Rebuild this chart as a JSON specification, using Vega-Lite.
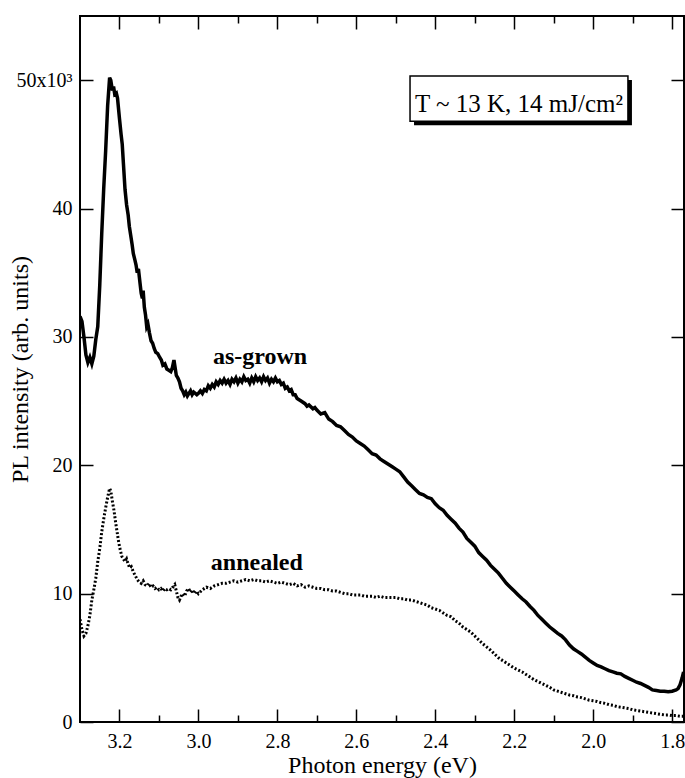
{
  "$schema": "https://vega.github.io/schema/vega-lite/v6.json",
  "width": 604,
  "height": 706,
  "autosize": {"type": "none"},
  "padding": {"left": 80, "top": 16, "right": 1, "bottom": 56},
  "background": "white",
  "config": {
    "view": {"stroke": "black", "strokeWidth": 2},
    "font": "Liberation Serif",
    "axis": {"grid": false, "domain": false, "tickColor": "black", "tickWidth": 1.5, "labelColor": "black", "titleColor": "black", "labelFont": "Liberation Serif", "titleFont": "Liberation Serif", "labelFontSize": 20, "titleFontSize": 24, "titleFontWeight": "normal"}
  },
  "datasets": {
    "asgrown": [
      {"e":3.300,"pl":31600},{"e":3.295,"pl":31200},{"e":3.290,"pl":30000},{"e":3.285,"pl":28600},{"e":3.280,"pl":28000},{"e":3.275,"pl":28400},{"e":3.270,"pl":27900},{"e":3.265,"pl":28500},{"e":3.260,"pl":29800},{"e":3.255,"pl":30800},{"e":3.250,"pl":34000},{"e":3.245,"pl":38000},{"e":3.240,"pl":41500},{"e":3.235,"pl":44500},{"e":3.230,"pl":48000},{"e":3.225,"pl":50200},{"e":3.222,"pl":50000},{"e":3.218,"pl":49200},{"e":3.215,"pl":49500},{"e":3.212,"pl":48900},{"e":3.208,"pl":49000},{"e":3.205,"pl":48600},{"e":3.200,"pl":47000},{"e":3.196,"pl":45800},{"e":3.193,"pl":45000},{"e":3.190,"pl":43500},{"e":3.186,"pl":41500},{"e":3.182,"pl":40300},{"e":3.178,"pl":39500},{"e":3.175,"pl":38600},{"e":3.171,"pl":37800},{"e":3.168,"pl":37200},{"e":3.165,"pl":36500},{"e":3.161,"pl":36000},{"e":3.158,"pl":35600},{"e":3.155,"pl":35000},{"e":3.152,"pl":35300},{"e":3.148,"pl":34200},{"e":3.145,"pl":33400},{"e":3.142,"pl":33000},{"e":3.140,"pl":33600},{"e":3.137,"pl":32300},{"e":3.134,"pl":31700},{"e":3.131,"pl":30800},{"e":3.128,"pl":31000},{"e":3.124,"pl":30300},{"e":3.120,"pl":29700},{"e":3.116,"pl":29500},{"e":3.112,"pl":29100},{"e":3.108,"pl":28800},{"e":3.103,"pl":28700},{"e":3.098,"pl":28400},{"e":3.094,"pl":28200},{"e":3.090,"pl":27800},{"e":3.085,"pl":27900},{"e":3.080,"pl":27500},{"e":3.075,"pl":27400},{"e":3.070,"pl":27300},{"e":3.066,"pl":27600},{"e":3.062,"pl":28200},{"e":3.059,"pl":27600},{"e":3.056,"pl":27000},{"e":3.052,"pl":26800},{"e":3.048,"pl":26500},{"e":3.044,"pl":26000},{"e":3.040,"pl":25800},{"e":3.036,"pl":25500},{"e":3.032,"pl":25700},{"e":3.028,"pl":25400},{"e":3.024,"pl":25600},{"e":3.020,"pl":25800},{"e":3.016,"pl":25500},{"e":3.012,"pl":25700},{"e":3.008,"pl":25600},{"e":3.004,"pl":25500},{"e":3.000,"pl":25600},{"e":2.995,"pl":25800},{"e":2.990,"pl":25600},{"e":2.985,"pl":25900},{"e":2.980,"pl":25800},{"e":2.975,"pl":26200},{"e":2.970,"pl":26000},{"e":2.965,"pl":26300},{"e":2.960,"pl":26100},{"e":2.955,"pl":26500},{"e":2.950,"pl":26300},{"e":2.945,"pl":26600},{"e":2.940,"pl":26400},{"e":2.935,"pl":26700},{"e":2.930,"pl":26400},{"e":2.925,"pl":26600},{"e":2.920,"pl":26300},{"e":2.915,"pl":26700},{"e":2.910,"pl":26500},{"e":2.905,"pl":26800},{"e":2.900,"pl":26400},{"e":2.895,"pl":26700},{"e":2.890,"pl":26500},{"e":2.885,"pl":26900},{"e":2.880,"pl":26600},{"e":2.875,"pl":26700},{"e":2.870,"pl":26400},{"e":2.865,"pl":26800},{"e":2.860,"pl":26500},{"e":2.855,"pl":26900},{"e":2.850,"pl":26600},{"e":2.845,"pl":26800},{"e":2.840,"pl":26500},{"e":2.835,"pl":26900},{"e":2.830,"pl":26600},{"e":2.825,"pl":26800},{"e":2.820,"pl":26400},{"e":2.815,"pl":26700},{"e":2.810,"pl":26500},{"e":2.805,"pl":26800},{"e":2.800,"pl":26500},{"e":2.795,"pl":26600},{"e":2.790,"pl":26300},{"e":2.785,"pl":26400},{"e":2.780,"pl":26000},{"e":2.775,"pl":26100},{"e":2.770,"pl":25800},{"e":2.765,"pl":25900},{"e":2.760,"pl":25500},{"e":2.755,"pl":25500},{"e":2.750,"pl":25200},{"e":2.740,"pl":25000},{"e":2.730,"pl":24800},{"e":2.725,"pl":24600},{"e":2.720,"pl":24700},{"e":2.710,"pl":24400},{"e":2.705,"pl":24500},{"e":2.700,"pl":24300},{"e":2.690,"pl":24000},{"e":2.680,"pl":24100},{"e":2.670,"pl":23600},{"e":2.660,"pl":23400},{"e":2.650,"pl":23100},{"e":2.640,"pl":23000},{"e":2.630,"pl":22700},{"e":2.620,"pl":22400},{"e":2.610,"pl":22200},{"e":2.600,"pl":21900},{"e":2.590,"pl":21700},{"e":2.580,"pl":21500},{"e":2.570,"pl":21200},{"e":2.560,"pl":20900},{"e":2.550,"pl":20800},{"e":2.540,"pl":20500},{"e":2.530,"pl":20300},{"e":2.520,"pl":20100},{"e":2.510,"pl":19900},{"e":2.500,"pl":19700},{"e":2.490,"pl":19500},{"e":2.480,"pl":19100},{"e":2.470,"pl":18700},{"e":2.460,"pl":18400},{"e":2.450,"pl":18100},{"e":2.440,"pl":17800},{"e":2.430,"pl":17700},{"e":2.420,"pl":17500},{"e":2.410,"pl":17400},{"e":2.400,"pl":17000},{"e":2.390,"pl":16700},{"e":2.380,"pl":16500},{"e":2.370,"pl":16100},{"e":2.360,"pl":15800},{"e":2.350,"pl":15500},{"e":2.340,"pl":15100},{"e":2.330,"pl":14800},{"e":2.320,"pl":14300},{"e":2.310,"pl":14000},{"e":2.300,"pl":13700},{"e":2.290,"pl":13200},{"e":2.280,"pl":12900},{"e":2.270,"pl":12600},{"e":2.260,"pl":12200},{"e":2.250,"pl":11900},{"e":2.240,"pl":11600},{"e":2.230,"pl":11200},{"e":2.220,"pl":10800},{"e":2.210,"pl":10500},{"e":2.200,"pl":10200},{"e":2.190,"pl":9900},{"e":2.180,"pl":9600},{"e":2.170,"pl":9350},{"e":2.160,"pl":9000},{"e":2.150,"pl":8700},{"e":2.140,"pl":8300},{"e":2.130,"pl":8000},{"e":2.120,"pl":7700},{"e":2.110,"pl":7400},{"e":2.100,"pl":7150},{"e":2.090,"pl":6900},{"e":2.080,"pl":6700},{"e":2.070,"pl":6400},{"e":2.060,"pl":6000},{"e":2.050,"pl":5700},{"e":2.040,"pl":5500},{"e":2.030,"pl":5300},{"e":2.020,"pl":5050},{"e":2.010,"pl":4800},{"e":2.000,"pl":4600},{"e":1.990,"pl":4400},{"e":1.980,"pl":4300},{"e":1.970,"pl":4150},{"e":1.960,"pl":4000},{"e":1.950,"pl":3900},{"e":1.940,"pl":3800},{"e":1.930,"pl":3750},{"e":1.920,"pl":3550},{"e":1.910,"pl":3400},{"e":1.900,"pl":3250},{"e":1.890,"pl":3100},{"e":1.880,"pl":3000},{"e":1.870,"pl":2850},{"e":1.860,"pl":2700},{"e":1.850,"pl":2500},{"e":1.840,"pl":2450},{"e":1.830,"pl":2400},{"e":1.820,"pl":2400},{"e":1.810,"pl":2350},{"e":1.800,"pl":2400},{"e":1.790,"pl":2500},{"e":1.785,"pl":2600},{"e":1.780,"pl":2900},{"e":1.775,"pl":3400},{"e":1.771,"pl":3900}
    ],
    "annealed": [
      {"e":3.300,"pl":8000},{"e":3.295,"pl":7200},{"e":3.290,"pl":6700},{"e":3.285,"pl":6900},{"e":3.280,"pl":7500},{"e":3.275,"pl":8300},{"e":3.270,"pl":9500},{"e":3.265,"pl":10300},{"e":3.260,"pl":11200},{"e":3.255,"pl":12500},{"e":3.250,"pl":13500},{"e":3.245,"pl":14800},{"e":3.240,"pl":15800},{"e":3.235,"pl":16700},{"e":3.230,"pl":17500},{"e":3.225,"pl":18200},{"e":3.222,"pl":18000},{"e":3.218,"pl":17200},{"e":3.214,"pl":16500},{"e":3.210,"pl":15600},{"e":3.206,"pl":14800},{"e":3.202,"pl":14000},{"e":3.198,"pl":13400},{"e":3.194,"pl":12900},{"e":3.190,"pl":12700},{"e":3.186,"pl":12500},{"e":3.182,"pl":12700},{"e":3.178,"pl":12300},{"e":3.174,"pl":12000},{"e":3.170,"pl":12100},{"e":3.165,"pl":11700},{"e":3.160,"pl":11400},{"e":3.155,"pl":11100},{"e":3.150,"pl":10900},{"e":3.145,"pl":10800},{"e":3.140,"pl":11000},{"e":3.135,"pl":10700},{"e":3.130,"pl":10600},{"e":3.125,"pl":10800},{"e":3.120,"pl":10500},{"e":3.115,"pl":10600},{"e":3.110,"pl":10400},{"e":3.105,"pl":10500},{"e":3.100,"pl":10300},{"e":3.095,"pl":10400},{"e":3.090,"pl":10200},{"e":3.085,"pl":10400},{"e":3.080,"pl":10300},{"e":3.075,"pl":10400},{"e":3.070,"pl":10300},{"e":3.065,"pl":10500},{"e":3.060,"pl":10700},{"e":3.056,"pl":10200},{"e":3.052,"pl":9700},{"e":3.048,"pl":9500},{"e":3.044,"pl":9800},{"e":3.040,"pl":10000},{"e":3.035,"pl":9800},{"e":3.030,"pl":10200},{"e":3.025,"pl":10400},{"e":3.020,"pl":10100},{"e":3.015,"pl":10300},{"e":3.010,"pl":10000},{"e":3.005,"pl":10200},{"e":3.000,"pl":10000},{"e":2.990,"pl":10300},{"e":2.980,"pl":10500},{"e":2.970,"pl":10400},{"e":2.960,"pl":10600},{"e":2.950,"pl":10700},{"e":2.940,"pl":10800},{"e":2.930,"pl":10800},{"e":2.920,"pl":10900},{"e":2.910,"pl":11000},{"e":2.900,"pl":10900},{"e":2.890,"pl":11000},{"e":2.880,"pl":11100},{"e":2.870,"pl":11000},{"e":2.860,"pl":11100},{"e":2.850,"pl":11000},{"e":2.840,"pl":11000},{"e":2.830,"pl":10900},{"e":2.820,"pl":11000},{"e":2.810,"pl":10900},{"e":2.800,"pl":10800},{"e":2.790,"pl":10900},{"e":2.780,"pl":10800},{"e":2.770,"pl":10700},{"e":2.760,"pl":10800},{"e":2.750,"pl":10600},{"e":2.740,"pl":10700},{"e":2.730,"pl":10500},{"e":2.720,"pl":10600},{"e":2.710,"pl":10500},{"e":2.700,"pl":10400},{"e":2.690,"pl":10400},{"e":2.680,"pl":10300},{"e":2.670,"pl":10300},{"e":2.660,"pl":10200},{"e":2.650,"pl":10200},{"e":2.640,"pl":10100},{"e":2.630,"pl":10000},{"e":2.620,"pl":10000},{"e":2.610,"pl":9900},{"e":2.600,"pl":9900},{"e":2.590,"pl":9900},{"e":2.580,"pl":9800},{"e":2.570,"pl":9800},{"e":2.560,"pl":9800},{"e":2.550,"pl":9700},{"e":2.540,"pl":9800},{"e":2.530,"pl":9700},{"e":2.520,"pl":9700},{"e":2.510,"pl":9700},{"e":2.500,"pl":9700},{"e":2.490,"pl":9600},{"e":2.480,"pl":9600},{"e":2.470,"pl":9500},{"e":2.460,"pl":9500},{"e":2.450,"pl":9400},{"e":2.440,"pl":9300},{"e":2.430,"pl":9200},{"e":2.420,"pl":9100},{"e":2.410,"pl":8900},{"e":2.400,"pl":8800},{"e":2.390,"pl":8700},{"e":2.380,"pl":8500},{"e":2.370,"pl":8300},{"e":2.360,"pl":8200},{"e":2.350,"pl":7900},{"e":2.340,"pl":7700},{"e":2.330,"pl":7400},{"e":2.320,"pl":7200},{"e":2.310,"pl":7000},{"e":2.300,"pl":6700},{"e":2.290,"pl":6400},{"e":2.280,"pl":6100},{"e":2.270,"pl":5850},{"e":2.260,"pl":5600},{"e":2.250,"pl":5300},{"e":2.240,"pl":5000},{"e":2.230,"pl":4800},{"e":2.220,"pl":4600},{"e":2.210,"pl":4400},{"e":2.200,"pl":4200},{"e":2.190,"pl":4050},{"e":2.180,"pl":3900},{"e":2.170,"pl":3700},{"e":2.160,"pl":3500},{"e":2.150,"pl":3300},{"e":2.140,"pl":3150},{"e":2.130,"pl":3000},{"e":2.120,"pl":2850},{"e":2.110,"pl":2700},{"e":2.100,"pl":2500},{"e":2.090,"pl":2400},{"e":2.080,"pl":2300},{"e":2.070,"pl":2200},{"e":2.060,"pl":2100},{"e":2.050,"pl":2050},{"e":2.040,"pl":1950},{"e":2.030,"pl":1900},{"e":2.020,"pl":1800},{"e":2.010,"pl":1700},{"e":2.000,"pl":1650},{"e":1.990,"pl":1600},{"e":1.980,"pl":1500},{"e":1.970,"pl":1450},{"e":1.960,"pl":1350},{"e":1.950,"pl":1300},{"e":1.940,"pl":1200},{"e":1.930,"pl":1150},{"e":1.920,"pl":1100},{"e":1.910,"pl":1050},{"e":1.900,"pl":950},{"e":1.890,"pl":900},{"e":1.880,"pl":850},{"e":1.870,"pl":800},{"e":1.860,"pl":750},{"e":1.850,"pl":700},{"e":1.840,"pl":650},{"e":1.830,"pl":600},{"e":1.820,"pl":550},{"e":1.810,"pl":550},{"e":1.800,"pl":500},{"e":1.790,"pl":500},{"e":1.780,"pl":450},{"e":1.771,"pl":450}
    ],
    "labels": [
      {"e":2.844,"pl":28400,"t":"as-grown"},
      {"e":2.852,"pl":12400,"t":"annealed"}
    ],
    "box": [
      {"x1":2.464,"x2":1.912,"y1":50330,"y2":46800,"xc":2.188,"yt":47520,"t":"T ~ 13 K, 14 mJ/cm²"}
    ]
  },
  "layer": [
    {
      "data": {"name": "asgrown"},
      "mark": {"type": "line", "color": "black", "strokeWidth": 3.5, "clip": true},
      "encoding": {
        "x": {"field": "e", "type": "quantitative", "scale": {"domain": [1.77, 3.3], "reverse": true, "nice": false, "zero": false},
          "axis": {"orient": "bottom", "values": [3.2, 3.0, 2.8, 2.6, 2.4, 2.2, 2.0, 1.8], "format": ".1f", "tickSize": -13, "labelPadding": 22, "title": "Photon energy (eV)", "titlePadding": 2}},
        "y": {"field": "pl", "type": "quantitative", "scale": {"domain": [0, 55000], "nice": false},
          "axis": {"orient": "left", "values": [0, 10000, 20000, 30000, 40000, 50000], "labelExpr": "datum.value == 50000 ? '50x10³' : format(datum.value / 1000, 'd')", "tickSize": -13, "labelPadding": 21, "title": "PL intensity (arb. units)", "titleX": -48, "titleY": 353, "titleAngle": -90, "titleAlign": "center", "titleBaseline": "bottom"}}
      }
    },
    {
      "data": {"name": "annealed"},
      "mark": {"type": "line", "color": "black", "strokeWidth": 3, "strokeDash": [2, 2], "clip": true},
      "encoding": {
        "x": {"field": "e", "type": "quantitative",
          "axis": {"orient": "top", "values": [3.2, 3.0, 2.8, 2.6, 2.4, 2.2, 2.0, 1.8], "labels": false, "tickSize": -13, "title": null}},
        "y": {"field": "pl", "type": "quantitative",
          "axis": {"orient": "right", "values": [0, 10000, 20000, 30000, 40000, 50000], "labels": false, "tickSize": -13, "title": null}}
      }
    },
    {
      "data": {"name": "labels"},
      "mark": {"type": "text", "fontSize": 24, "fontWeight": "bold", "font": "Liberation Serif", "color": "black", "align": "center", "baseline": "middle"},
      "encoding": {
        "x": {"field": "e", "type": "quantitative",
          "axis": {"orient": "bottom", "values": [3.1, 2.9, 2.7, 2.5, 2.3, 2.1, 1.9], "labels": false, "tickSize": -7, "title": null}},
        "y": {"field": "pl", "type": "quantitative", "axis": null},
        "text": {"field": "t"}
      }
    },
    {
      "data": {"name": "box"},
      "mark": {"type": "rect", "color": "black", "xOffset": 4, "x2Offset": 4, "yOffset": 4, "y2Offset": 4},
      "encoding": {
        "x": {"field": "x1", "type": "quantitative",
          "axis": {"orient": "top", "values": [3.1, 2.9, 2.7, 2.5, 2.3, 2.1, 1.9], "labels": false, "tickSize": -7, "title": null}},
        "x2": {"field": "x2"},
        "y": {"field": "y1", "type": "quantitative", "axis": null},
        "y2": {"field": "y2"}
      }
    },
    {
      "data": {"name": "box"},
      "mark": {"type": "rect", "fill": "white", "stroke": "black", "strokeWidth": 1.5},
      "encoding": {
        "x": {"field": "x1", "type": "quantitative", "axis": null},
        "x2": {"field": "x2"},
        "y": {"field": "y1", "type": "quantitative", "axis": null},
        "y2": {"field": "y2"}
      }
    },
    {
      "data": {"name": "box"},
      "mark": {"type": "text", "fontSize": 25, "font": "Liberation Serif", "color": "black", "align": "center", "baseline": "alphabetic"},
      "encoding": {
        "x": {"field": "xc", "type": "quantitative", "axis": null},
        "y": {"field": "yt", "type": "quantitative", "axis": null},
        "text": {"field": "t"}
      }
    }
  ],
  "resolve": {"axis": {"x": "independent", "y": "independent"}}
}
